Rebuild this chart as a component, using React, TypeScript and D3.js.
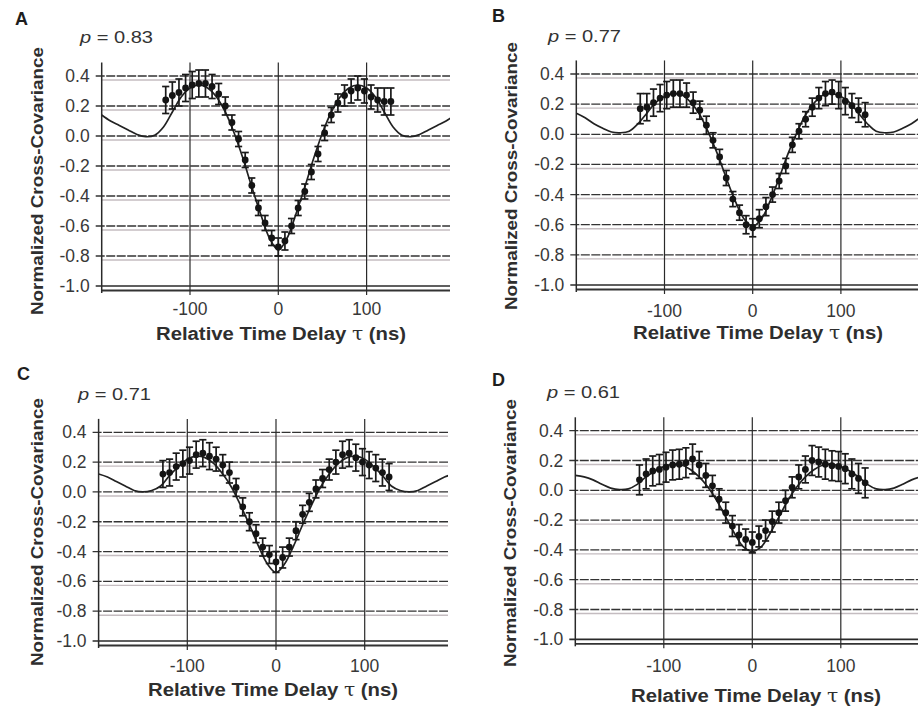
import React from 'react';
import * as d3 from 'd3';

// ---------- data ----------
const tau = [
  -127.5, -120, -112.5, -105, -97.5, -90, -82.5, -75, -67.5, -60, -52.5, -45,
  -37.5, -30, -22.5, -15, -7.5, 0, 7.5, 15, 22.5, 30, 37.5, 45, 52.5, 60, 67.5,
  75, 82.5, 90, 97.5, 105, 112.5, 120, 127.5,
];

const valuesA = [
  0.24, 0.27, 0.29, 0.32, 0.34, 0.35, 0.35, 0.33, 0.28, 0.2, 0.09, -0.02,
  -0.16, -0.33, -0.48, -0.58, -0.68, -0.74, -0.7, -0.6, -0.48, -0.37, -0.24,
  -0.12, 0.02, 0.14, 0.22, 0.27, 0.3, 0.32, 0.3, 0.26, 0.24, 0.23, 0.23,
];
const errA = [
  0.09, 0.09, 0.09, 0.09, 0.09, 0.09, 0.09, 0.08, 0.07, 0.06, 0.05, 0.05,
  0.05, 0.05, 0.05, 0.05, 0.05, 0.06, 0.06, 0.05, 0.05, 0.05, 0.05, 0.05,
  0.05, 0.05, 0.06, 0.07, 0.08, 0.08, 0.08, 0.08, 0.08, 0.09, 0.09,
];

const valuesB = [
  0.17, 0.18, 0.21, 0.24, 0.26, 0.27, 0.27, 0.26, 0.21, 0.16, 0.06, -0.04,
  -0.15, -0.29, -0.43, -0.52, -0.6, -0.62, -0.56, -0.48, -0.4, -0.31, -0.21,
  -0.07, 0.02, 0.1, 0.18, 0.24, 0.27, 0.28, 0.26, 0.22, 0.19, 0.16, 0.13,
];
const errB = [
  0.1, 0.09, 0.09, 0.09, 0.09, 0.09, 0.09, 0.08, 0.07, 0.06, 0.06, 0.05,
  0.05, 0.05, 0.05, 0.05, 0.06, 0.06, 0.06, 0.06, 0.05, 0.05, 0.05, 0.05,
  0.05, 0.05, 0.06, 0.07, 0.08, 0.08, 0.09, 0.09, 0.08, 0.08, 0.08,
];

const valuesC = [
  0.12, 0.13, 0.17, 0.19, 0.21, 0.25, 0.26, 0.24, 0.22, 0.18, 0.13, 0.03,
  -0.1, -0.2, -0.28, -0.37, -0.42, -0.47, -0.44, -0.37, -0.26, -0.15, -0.07,
  0.02, 0.09, 0.15, 0.2, 0.25, 0.26, 0.23, 0.2, 0.18, 0.16, 0.13, 0.1,
];
const errC = [
  0.09, 0.09, 0.09, 0.09, 0.09, 0.09, 0.09, 0.09, 0.08, 0.07, 0.07, 0.06,
  0.06, 0.06, 0.06, 0.06, 0.06, 0.07, 0.07, 0.06, 0.06, 0.06, 0.06, 0.06,
  0.06, 0.07, 0.08, 0.09, 0.09, 0.09, 0.09, 0.09, 0.09, 0.09, 0.09,
];

const valuesD = [
  0.07, 0.11, 0.13, 0.14, 0.155, 0.17, 0.175, 0.185, 0.21, 0.17, 0.1, 0.03,
  -0.06, -0.15, -0.24, -0.3, -0.33, -0.35, -0.31, -0.27, -0.21, -0.15, -0.07,
  0.02, 0.09, 0.14, 0.2, 0.19, 0.175, 0.165, 0.16, 0.145, 0.11, 0.08, 0.05,
];
const errD = [
  0.1, 0.1, 0.1, 0.1, 0.1, 0.1, 0.1, 0.1, 0.1, 0.09, 0.08, 0.07, 0.07, 0.07,
  0.07, 0.07, 0.07, 0.07, 0.07, 0.07, 0.07, 0.07, 0.07, 0.07, 0.08, 0.09,
  0.1, 0.1, 0.1, 0.1, 0.1, 0.1, 0.1, 0.1, 0.1,
];

const curveTau = [
  -200, -190, -180, -170, -160, -150, -140, -130, -120, -110, -100, -90, -80,
  -70, -60, -50, -40, -30, -20, -10, 0, 10, 20, 30, 40, 50, 60, 70, 80, 90,
  100, 110, 120, 130, 140, 150, 160, 170, 180, 190, 200,
];
const curveA = [
  0.14, 0.1, 0.07, 0.04, 0.01, -0.005, 0.005, 0.06, 0.16, 0.26, 0.32, 0.34,
  0.32, 0.26, 0.16, 0.02, -0.15, -0.34, -0.52, -0.68, -0.76, -0.68, -0.52,
  -0.34, -0.15, 0.02, 0.16, 0.26, 0.32, 0.34, 0.32, 0.26, 0.16, 0.06, 0.005,
  -0.005, 0.01, 0.04, 0.07, 0.1, 0.14,
];
const curveB = [
  0.14, 0.11, 0.07, 0.04, 0.015, 0.01, 0.02, 0.07, 0.14, 0.21, 0.25, 0.27,
  0.26, 0.21, 0.13, 0.01, -0.13, -0.29, -0.44, -0.56, -0.61, -0.56, -0.44,
  -0.29, -0.13, 0.01, 0.13, 0.21, 0.26, 0.27, 0.25, 0.21, 0.14, 0.07, 0.02,
  0.01, 0.015, 0.04, 0.07, 0.11, 0.14,
];
const curveC = [
  0.12, 0.1, 0.07, 0.04, 0.01, 0.0, 0.01, 0.04, 0.11, 0.17, 0.22, 0.24, 0.23,
  0.19, 0.12, 0.03, -0.09, -0.22, -0.36, -0.48, -0.54, -0.48, -0.36, -0.22,
  -0.09, 0.03, 0.12, 0.19, 0.23, 0.24, 0.22, 0.17, 0.11, 0.04, 0.01, 0.0,
  0.01, 0.04, 0.07, 0.1, 0.12,
];
const curveD = [
  0.1, 0.09, 0.07, 0.04, 0.015, 0.005, 0.01, 0.04, 0.09, 0.13, 0.16, 0.175,
  0.17, 0.14, 0.09, 0.02, -0.07, -0.18, -0.29, -0.38, -0.41, -0.38, -0.29,
  -0.18, -0.07, 0.02, 0.09, 0.14, 0.17, 0.175, 0.16, 0.13, 0.09, 0.04, 0.01,
  0.005, 0.015, 0.04, 0.07, 0.09, 0.1,
];

const yTicks = [0.4, 0.2, 0.0, -0.2, -0.4, -0.6, -0.8, -1.0];
const yTickLabels = ['0.4', '0.2', '0.0', '-0.2', '-0.4', '-0.6', '-0.8', '-1.0'];
const xTicks = [-100, 0, 100];
const xTickLabels = ['-100', '0', '100'];
const panelLetters = ['A', 'B', 'C', 'D'];
const pLabels = ['0.83', '0.77', '0.71', '0.61'];
const yTitle = 'Normalized Cross-Covariance';
const xTitle = 'Relative Time Delay ';

// ---------- layout ----------
const layouts = [
  { x0: 278.3, k: 88.3, y04: 76, y10: 286, right: 450, letter: [15, 25], p: [80, 43], yT: [37, 181], xT: [281, 340], xTickY: 315 },
  { x0: 752.7, k: 88.2, y04: 74, y10: 285, right: 918, letter: [492, 22], p: [548, 42], yT: [511, 176], xT: [758, 339], xTickY: 317 },
  { x0: 276, k: 88.7, y04: 432.3, y10: 641, right: 448, letter: [17, 380], p: [78, 400], yT: [37, 532], xT: [273, 696], xTickY: 672 },
  { x0: 752.3, k: 88.5, y04: 430.7, y10: 639.3, right: 918, letter: [492, 386], p: [547, 398], yT: [510, 533], xT: [756, 702], xTickY: 672 },
];

const panelValues = [valuesA, valuesB, valuesC, valuesD];
const panelErrs = [errA, errB, errC, errD];
const panelCurves = [curveA, curveB, curveC, curveD];

const FONT = '"Liberation Sans", Arial, Helvetica, sans-serif';

function Panel({ i }: { i: number }) {
  const L = layouts[i];
  const x = d3.scaleLinear().domain([-200, 200]).range([L.x0 - 2 * L.k, L.x0 + 2 * L.k]);
  const y = d3.scaleLinear().domain([-1.0, 0.4]).range([L.y10, L.y04]);
  const axisX = x(-200);
  const top = y(0.49);
  const right = L.right;
  const line = d3
    .line<number>()
    .x((_, j) => x(curveTau[j]))
    .y((d) => y(d))
    .curve(d3.curveCatmullRom.alpha(0.5));
  const clipId = `clip${i}`;
  const vals = panelValues[i];
  const errs = panelErrs[i];
  const cap = 3.6;
  return (
    <g>
      <defs>
        <clipPath id={clipId}>
          <rect x={axisX} y={top - 10} width={right - axisX} height={L.y10 - top + 30} />
        </clipPath>
      </defs>
      {/* horizontal grid lines */}
      {yTicks.map((t, j) => {
        const yy = y(t);
        if (t === -1.0) {
          return (
            <g key={j}>
              <line x1={axisX - 6} x2={right} y1={yy} y2={yy} stroke="#2a2a2a" strokeWidth={1.7} />
              <line x1={axisX} x2={right} y1={yy + 4.5} y2={yy + 4.5} stroke="#333" strokeWidth={1.8} />
            </g>
          );
        }
        return (
          <g key={j}>
            <line x1={axisX - 6} x2={right} y1={yy} y2={yy} stroke="#333" strokeWidth={1.3} strokeDasharray="9 1.5" />
            <line x1={axisX} x2={right} y1={yy + 4} y2={yy + 4} stroke="#c4bcc0" strokeWidth={1.4} />
          </g>
        );
      })}
      {/* vertical lines */}
      <line x1={axisX} x2={axisX} y1={top} y2={L.y10 + 7} stroke="#2a2a2a" strokeWidth={1.5} />
      {xTicks.map((t, j) => (
        <line key={j} x1={x(t)} x2={x(t)} y1={top} y2={L.y10 + 9} stroke="#2a2a2a" strokeWidth={1.2} />
      ))}
      {/* y tick labels */}
      {yTicks.map((t, j) => (
        <text key={j} x={axisX - 12} y={y(t) + 6} textAnchor="end" fontFamily={FONT} fontSize={17.5} fill="#383838">
          {yTickLabels[j]}
        </text>
      ))}
      {/* x tick labels */}
      {xTicks.map((t, j) => (
        <text key={j} x={x(t)} y={L.xTickY} textAnchor="middle" fontFamily={FONT} fontSize={17.5} fill="#383838">
          {xTickLabels[j]}
        </text>
      ))}
      {/* theory curve */}
      <g clipPath={`url(#${clipId})`}>
        <path d={line(panelCurves[i]) || ''} fill="none" stroke="#222" strokeWidth={1.7} />
      </g>
      {/* error bars + points */}
      {tau.map((t, j) => {
        const cx = x(t);
        const v = vals[j];
        const e = errs[j];
        return (
          <g key={j} stroke="#1a1a1a" strokeWidth={1.7}>
            <line x1={cx} x2={cx} y1={y(v + e)} y2={y(v - e)} />
            <line x1={cx - cap} x2={cx + cap} y1={y(v + e)} y2={y(v + e)} />
            <line x1={cx - cap} x2={cx + cap} y1={y(v - e)} y2={y(v - e)} />
          </g>
        );
      })}
      {tau.map((t, j) => (
        <circle key={j} cx={x(t)} cy={y(vals[j])} r={3.4} fill="#141414" />
      ))}
      {/* letter */}
      <text x={L.letter[0]} y={L.letter[1]} fontFamily={FONT} fontWeight="bold" fontSize={18} fill="#1e1e1e">
        {panelLetters[i]}
      </text>
      {/* p label */}
      <text x={L.p[0]} y={L.p[1]} fontFamily={FONT} fontSize={16} fill="#333" textLength={73} lengthAdjust="spacingAndGlyphs">
        <tspan fontStyle="italic">p</tspan>
        {' = ' + pLabels[i]}
      </text>
      {/* y title */}
      <text
        transform={`translate(${L.yT[0] + 6},${L.yT[1]}) rotate(-90)`}
        textAnchor="middle"
        fontFamily={FONT}
        fontWeight="bold"
        fontSize={17}
        fill="#2e2e2e"
        textLength={268}
        lengthAdjust="spacingAndGlyphs"
      >
        {yTitle}
      </text>
      {/* x title */}
      <text
        x={L.xT[0]}
        y={L.xT[1]}
        textAnchor="middle"
        fontFamily={FONT}
        fontWeight="bold"
        fontSize={18}
        fill="#2e2e2e"
        textLength={250}
        lengthAdjust="spacingAndGlyphs"
      >
        {xTitle}
        <tspan fontWeight="normal" fontFamily='"DejaVu Serif", serif'>τ</tspan>
        {' (ns)'}
      </text>
    </g>
  );
}

export default function App() {
  return (
    <svg
      width={918}
      height={707}
      viewBox="0 0 918 707"
      style={{ position: 'absolute', left: 0, top: 0, background: '#fff' }}
    >
      <rect x={0} y={0} width={918} height={707} fill="#fff" />
      {[0, 1, 2, 3].map((i) => (
        <Panel key={i} i={i} />
      ))}
    </svg>
  );
}
